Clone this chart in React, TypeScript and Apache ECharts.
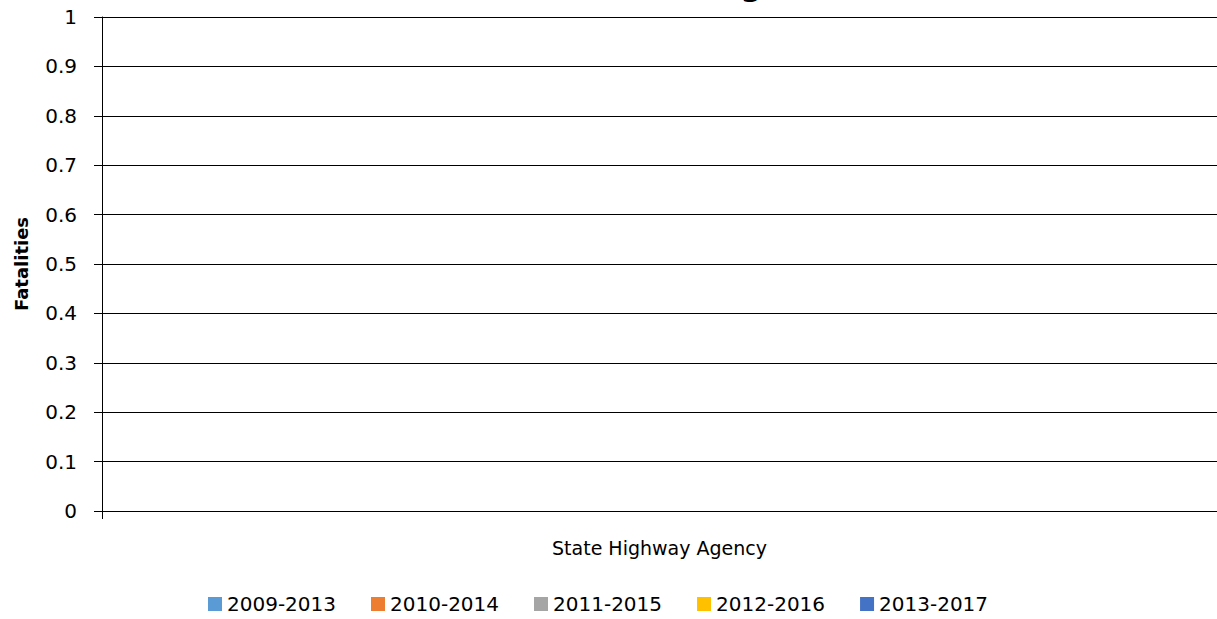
import React, { useEffect, useRef } from "react";
import * as echarts from "echarts";

const titleText = "Fatalities Due to Racing";
const categories = ["State Highway Agency"];
const seriesNames = ["2009-2013", "2010-2014", "2011-2015", "2012-2016", "2013-2017"];
const seriesValues: (number | null)[][] = [[null], [null], [null], [null], [null]];
const seriesColors = ["#5B9BD5", "#ED7D31", "#A5A5A5", "#FFC000", "#4472C4"];
const yTicks = { min: 0, max: 1, interval: 0.1 };
const yAxisTitle = "Fatalities";

const FONT = "'DejaVu Sans', sans-serif";

export default function App() {
  const ref = useRef<HTMLDivElement>(null);
  useEffect(() => {
    if (!ref.current) return;
    const chart = echarts.init(ref.current, undefined, { renderer: "svg" });
    chart.setOption({
      animation: false,
      backgroundColor: "#ffffff",
      textStyle: { fontFamily: FONT },
      graphic: [
        {
          type: "text",
          x: 762,
          y: 0,
          style: {
            text: titleText,
            font: `bold 30px ${FONT}`,
            fill: "#000",
            align: "right",
            verticalAlign: "bottom",
          },
        },
      ],
      grid: {
        left: 102,
        right: 0,
        top: 17,
        bottom: 108,
        containLabel: false,
        outerBoundsMode: "none",
      },
      legend: {
        top: 589,
        left: 203,
        itemWidth: 14,
        itemHeight: 14,
        itemGap: 35,
        icon: "rect",
        textStyle: { fontSize: 20, color: "#000", fontFamily: FONT },
        data: seriesNames,
      },
      xAxis: {
        type: "category",
        data: categories,
        boundaryGap: true,
        axisLine: { show: true, lineStyle: { color: "#000", width: 1 } },
        axisTick: { show: true, length: 8, lineStyle: { color: "#000" } },
        axisLabel: { margin: 27, fontSize: 19, color: "#000", fontFamily: FONT },
      },
      yAxis: {
        type: "value",
        min: yTicks.min,
        max: yTicks.max,
        interval: yTicks.interval,
        name: yAxisTitle,
        nameLocation: "middle",
        nameGap: 72,
        nameTextStyle: { fontSize: 18, fontWeight: "bold", color: "#000", fontFamily: FONT },
        axisLine: { show: true, lineStyle: { color: "#000", width: 1 } },
        axisTick: { show: true, length: 8, inside: false, lineStyle: { color: "#000" } },
        axisLabel: {
          fontSize: 20,
          color: "#000",
          margin: 25,
          fontFamily: FONT,
          formatter: (v: number) => String(Math.round(v * 10) / 10),
        },
        splitLine: { show: true, lineStyle: { color: "#000", width: 1 } },
      },
      series: seriesNames.map((name, i) => ({
        name,
        type: "bar",
        data: seriesValues[i],
        itemStyle: { color: seriesColors[i] },
      })),
    });
    return () => chart.dispose();
  }, []);
  return (
    <div
      ref={ref}
      style={{ position: "absolute", left: 0, top: 0, width: 1217, height: 619 }}
    />
  );
}
